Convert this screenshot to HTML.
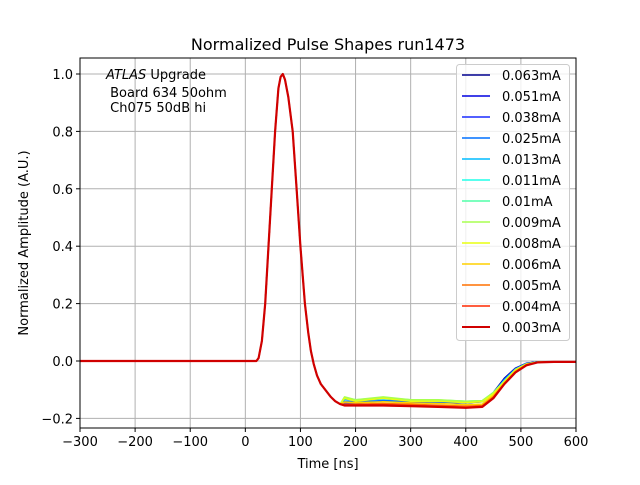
<!DOCTYPE html>
<html><head><meta charset="utf-8"><style>
body{margin:0;background:#fff;font-family:"Liberation Sans","DejaVu Sans",sans-serif}
svg text{font-family:"DejaVu Sans","Liberation Sans",sans-serif}
</style></head><body>
<svg id="c" width="640" height="480"></svg>
<script>
const times=[-300,-100,0,20,24,30,36,42,48,54,60,64,68,72,78,86,93,100,108,114,119,124,130,137,145,155,163,172,180,200,250,300,350,400,430,450,470,490,510,530,560,600];
const rise=[0,0,0,0,0.01,0.07,0.2,0.4,0.6,0.8,0.95,0.99,1.0,0.98,0.92,0.8,0.6,0.4,0.2,0.1,0.035,-0.01,-0.05,-0.08,-0.1,-0.125,-0.14,-0.15];
const labels=["0.063mA","0.051mA","0.038mA","0.025mA","0.013mA","0.011mA","0.01mA","0.009mA","0.008mA","0.006mA","0.005mA","0.004mA","0.003mA"];
const colors=["#00008f","#0000e0","#1a2cff","#0070ff","#00bcff","#20ffe8","#50ffa8","#a8ff50","#e8ff10","#ffd000","#ff7000","#ff2800","#d00000"];
const tails=[
[-0.148,-0.145,-0.14,-0.14,-0.142,-0.145,-0.14,-0.11,-0.06,-0.025,-0.008,-0.003,-0.003,-0.003],
[-0.148,-0.146,-0.141,-0.141,-0.143,-0.146,-0.141,-0.112,-0.062,-0.026,-0.008,-0.003,-0.003,-0.003],
[-0.146,-0.145,-0.14,-0.141,-0.143,-0.146,-0.142,-0.113,-0.064,-0.027,-0.009,-0.003,-0.003,-0.003],
[-0.14,-0.142,-0.138,-0.14,-0.142,-0.145,-0.142,-0.113,-0.065,-0.028,-0.009,-0.003,-0.003,-0.003],
[-0.133,-0.138,-0.132,-0.137,-0.139,-0.142,-0.14,-0.112,-0.068,-0.03,-0.01,-0.004,-0.003,-0.003],
[-0.13,-0.136,-0.13,-0.136,-0.137,-0.14,-0.139,-0.11,-0.068,-0.03,-0.01,-0.004,-0.003,-0.003],
[-0.128,-0.135,-0.128,-0.135,-0.136,-0.14,-0.138,-0.11,-0.07,-0.03,-0.01,-0.004,-0.003,-0.003],
[-0.125,-0.135,-0.125,-0.135,-0.135,-0.14,-0.138,-0.11,-0.07,-0.03,-0.01,-0.004,-0.003,-0.003],
[-0.13,-0.14,-0.13,-0.14,-0.14,-0.145,-0.142,-0.115,-0.072,-0.032,-0.011,-0.004,-0.003,-0.003],
[-0.143,-0.145,-0.142,-0.146,-0.148,-0.152,-0.15,-0.12,-0.075,-0.035,-0.012,-0.004,-0.003,-0.003],
[-0.15,-0.15,-0.148,-0.151,-0.154,-0.157,-0.155,-0.125,-0.078,-0.037,-0.013,-0.005,-0.003,-0.003],
[-0.153,-0.153,-0.152,-0.155,-0.158,-0.161,-0.158,-0.128,-0.079,-0.039,-0.014,-0.005,-0.003,-0.003],
[-0.155,-0.155,-0.155,-0.157,-0.16,-0.163,-0.16,-0.13,-0.08,-0.04,-0.015,-0.005,-0.003,-0.003]];
const xTicks=[-300,-200,-100,0,100,200,300,400,500,600];
const yTicks=[-0.2,0,0.2,0.4,0.6,0.8,1.0];
const L=80,R=576,T=58,B=428;
const X=t=>L+(t+300)*(R-L)/900;
const Y=v=>361-v*287;
const svg=document.getElementById('c');
const NS='http://www.w3.org/2000/svg';
function mk(tag,a,txt){const e=document.createElementNS(NS,tag);for(const k in a)e.setAttribute(k,a[k]);if(txt!==undefined)e.textContent=txt;svg.appendChild(e);return e;}
let e;
e=mk('text',{x:328,y:50,'text-anchor':'middle','font-size':16},'Normalized Pulse Shapes run1473');


xTicks.forEach(t=>{
 e=mk('line',{x1:X(t),x2:X(t),y1:T,y2:B,stroke:'#b0b0b0','stroke-width':1});
 
 
 mk('line',{x1:X(t),x2:X(t),y1:B,y2:B+4,stroke:'#000'});
 e=mk('text',{x:X(t),y:B+18,'text-anchor':'middle','font-size':13},String(t).replace('-','\u2212'));
 
 
});
yTicks.forEach(v=>{
 e=mk('line',{x1:L,x2:R,y1:Y(v),y2:Y(v),stroke:'#b0b0b0','stroke-width':1});
 
 
 mk('line',{x1:L-4,x2:L,y1:Y(v),y2:Y(v),stroke:'#000'});
 e=mk('text',{x:L-7,y:Y(v)+5,'text-anchor':'end','font-size':13},v.toFixed(1).replace('-','\u2212'));
 
 
});
tails.forEach((tail,i)=>{
 const vals=rise.concat(tail);
 const d=times.map((t,j)=>(j?'L':'M')+X(t).toFixed(1)+','+Y(vals[j]).toFixed(1)).join('');
 e=mk('path',{d:d,fill:'none',stroke:colors[i],'stroke-width':i==12?2.2:1.5,'stroke-linejoin':'round'});
 
 
});
e=mk('rect',{x:L,y:T,width:R-L,height:B-T,fill:'none',stroke:'#000','stroke-width':1});


e=mk('text',{x:328,y:468,'text-anchor':'middle','font-size':13},'Time [ns]');


e=mk('text',{x:28,y:243,'text-anchor':'middle','font-size':13,transform:'rotate(-90 28 243)'},'Normalized Amplitude (A.U.)');


e=mk('text',{x:106,y:79,'font-size':13});
e.innerHTML='<tspan font-style="italic">ATLAS</tspan> Upgrade';


e=mk('text',{x:106,y:97,'font-size':13},'\u00a0Board 634 50ohm');


e=mk('text',{x:106,y:112,'font-size':13},'\u00a0Ch075 50dB hi');


e=mk('rect',{x:456.5,y:64.5,width:113,height:276,rx:3,fill:'#fff','fill-opacity':0.8,stroke:'#ccc'});


labels.forEach((lab,i)=>{
 const yy=75+i*21;
 e=mk('line',{x1:462,x2:490,y1:yy,y2:yy,stroke:colors[i],'stroke-width':i==12?2:1.5});
 
 
 e=mk('text',{x:502,y:yy+5,'font-size':13},lab);
 
 
});
</script>
</body></html>
